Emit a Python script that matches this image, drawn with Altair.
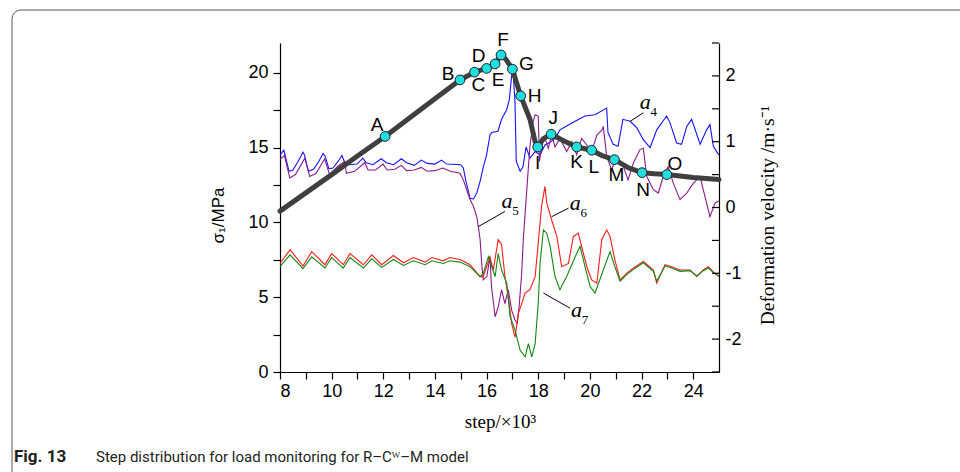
import altair as alt
import pandas as pd

# ---------------- data ----------------
# sigma_1 (MPa) versus step (x10^3)
sigma_step = [8.0, 9.0, 10.0, 11.0, 12.07, 13.0, 14.0, 14.97, 15.53, 16.0, 16.33, 16.56, 16.75,
              17.0, 17.32, 17.68, 17.88, 17.98, 18.2, 18.5, 19.0, 19.49, 20.07, 20.5, 20.95,
              21.5, 22.02, 22.5, 22.98, 24.0, 25.0]
sigma_val = [10.76, 11.98, 13.2, 14.44, 15.75, 16.96, 18.27, 19.53, 20.05, 20.3, 20.6, 21.2, 20.9,
             20.25, 18.46, 16.9, 15.4, 15.05, 15.6, 15.9, 15.45, 15.05, 14.83, 14.45, 14.2,
             13.65, 13.33, 13.25, 13.2, 13.0, 12.87]

# monitoring points A..O on the sigma curve
pt_label = list("ABCDEFGHIJKLMNO")
pt_step = [12.07, 14.97, 15.53, 16.0, 16.33, 16.56, 17.0, 17.32, 17.98, 18.5, 19.49, 20.07, 20.95, 22.02, 22.98]
pt_sigma = [15.75, 19.53, 20.05, 20.3, 20.6, 21.2, 20.25, 18.46, 15.05, 15.9, 15.05, 14.83, 14.2, 13.33, 13.2]

# deformation velocity (m/s) of monitoring lines a4..a7
a4_step = [8.00, 8.15, 8.35, 8.50, 8.70, 8.89, 8.95, 9.10, 9.30, 9.50, 9.67, 9.75, 9.89, 10.05, 10.25,
           10.40, 10.51, 10.70, 10.98, 11.21, 11.34, 11.60, 11.92, 12.12, 12.40, 12.70, 12.90, 13.20,
           13.47, 13.70, 14.00, 14.26, 14.45, 15.00, 15.10, 15.20, 15.36, 15.49, 15.62, 15.75, 15.87,
           16.00, 16.13, 16.20, 16.44, 16.58, 16.78, 16.88, 16.97, 17.02, 17.10, 17.15, 17.30, 17.41,
           17.53, 17.68, 17.88, 18.07, 18.26, 18.46, 18.65, 18.84, 19.10, 19.43, 19.81, 20.20, 20.65,
           20.70, 20.90, 21.09, 21.28, 21.56, 21.82, 22.07, 22.33, 22.59, 22.97, 23.10, 23.36, 23.55,
           23.75, 23.94, 24.14, 24.27, 24.52, 24.65, 24.78, 24.91, 25.00]
a4_vel = [0.80, 0.87, 0.55, 0.57, 0.70, 0.84, 0.80, 0.55, 0.58, 0.70, 0.82, 0.78, 0.59, 0.60, 0.70,
          0.79, 0.68, 0.65, 0.66, 0.75, 0.68, 0.65, 0.74, 0.68, 0.65, 0.74, 0.68, 0.64,
          0.72, 0.67, 0.66, 0.72, 0.66, 0.65, 0.60, 0.40, 0.14, 0.13, 0.22, 0.40, 0.61,
          0.80, 1.10, 1.14, 1.16, 1.34, 1.49, 1.64, 2.00, 2.10, 1.60, 0.70, 0.55, 0.62,
          0.92, 0.75, 0.85, 0.80, 0.95, 0.99, 1.05, 1.18, 1.24, 1.31, 1.39, 1.41, 1.51,
          1.14, 0.96, 0.93, 1.34, 1.31, 1.21, 1.03, 0.91, 1.18, 1.39, 1.29, 0.98, 0.96,
          1.23, 1.34, 1.11, 0.96, 1.18, 1.26, 0.93, 0.85, 0.80]

a5_step = [8.00, 8.17, 8.38, 8.60, 8.96, 9.15, 9.40, 9.73, 9.92, 10.25, 10.51, 10.57, 10.89, 11.28,
           11.41, 11.70, 11.99, 12.15, 12.45, 12.70, 12.90, 13.20, 13.47, 13.70, 14.00, 14.30, 14.60,
           14.97, 15.10, 15.23, 15.36, 15.49, 15.62, 15.68, 15.75, 15.81, 15.87, 16.01, 16.13, 16.19,
           16.33, 16.45, 16.58, 16.71, 16.84, 16.97, 17.10, 17.19, 17.27, 17.36, 17.42, 17.53, 17.62,
           17.68, 17.80, 17.88, 18.00, 18.05, 18.13, 18.26, 18.39, 18.52, 18.65, 18.84, 19.10, 19.30,
           19.49, 19.68, 19.88, 20.07, 20.27, 20.47, 20.52, 20.65, 20.84, 21.04, 21.30, 21.48, 21.69,
           21.94, 22.07, 22.20, 22.46, 22.65, 22.84, 23.03, 23.23, 23.49, 23.75, 24.01, 24.27, 24.39,
           24.65, 24.85, 25.00]
a5_vel = [0.73, 0.79, 0.45, 0.50, 0.75, 0.47, 0.52, 0.74, 0.50, 0.63, 0.70, 0.52, 0.55, 0.68,
          0.57, 0.57, 0.66, 0.57, 0.58, 0.64, 0.56, 0.57, 0.61, 0.55, 0.56, 0.60, 0.55,
          0.52, 0.42, 0.27, 0.12, 0.02, -0.14, -0.29, -0.49, -0.85, -1.10, -1.05, -0.75, -1.20,
          -1.66, -1.51, -1.25, -1.46, -1.25, -1.56, -1.71, -1.76, -1.46, -1.00, -0.49, 0.12, 0.62,
          0.93, 1.30, 1.41, 1.39, 0.70, 0.95, 1.05, 0.90, 1.10, 0.92, 1.05, 0.85, 1.00,
          0.80, 1.05, 0.95, 0.85, 1.10, 1.18, 1.23, 0.78, 0.57, 0.78, 0.62, 0.42, 0.68,
          0.88, 0.90, 0.47, 0.27, 0.22, 0.47, 0.62, 0.37, 0.12, 0.22, 0.37, 0.47, 0.27,
          -0.14, 0.07, 0.10]

a6_step = [8.00, 8.39, 8.89, 9.23, 9.74, 10.00, 10.45, 10.71, 11.23, 11.55, 11.94, 12.39, 12.78, 13.16,
           13.62, 13.88, 14.32, 14.58, 14.97, 15.36, 15.75, 15.87, 16.13, 16.26, 16.45, 16.58, 16.71,
           16.84, 16.97, 17.10, 17.23, 17.36, 17.49, 17.68, 17.88, 18.00, 18.13, 18.26, 18.33, 18.52,
           18.72, 18.91, 19.17, 19.36, 19.55, 19.68, 19.88, 20.07, 20.27, 20.46, 20.65, 20.78, 20.97,
           21.17, 21.42, 21.69, 22.07, 22.46, 22.59, 22.91, 23.17, 23.49, 23.88, 24.14, 24.39, 24.59,
           24.78, 25.00]
a6_vel = [-0.85, -0.64, -0.89, -0.67, -0.87, -0.70, -0.87, -0.70, -0.87, -0.72, -0.87, -0.73, -0.84, -0.76,
          -0.83, -0.76, -0.81, -0.76, -0.79, -0.87, -1.05, -1.05, -0.75, -0.95, -0.49, -0.56, -1.05,
          -1.36, -1.76, -1.97, -1.61, -1.46, -1.30, -1.25, -1.05, -0.54, 0.02, 0.32, 0.07, -0.19,
          -0.44, -0.90, -0.85, -0.44, -0.39, -0.59, -0.90, -1.10, -1.15, -0.49, -0.34, -0.44, -0.80,
          -1.10, -1.00, -0.92, -0.82, -0.95, -1.15, -0.87, -0.90, -0.95, -0.95, -1.05, -0.95, -0.90,
          -0.98, -1.05]

a7_step = [8.00, 8.39, 8.89, 9.23, 9.74, 10.00, 10.45, 10.71, 11.23, 11.55, 11.94, 12.39, 12.78, 13.16,
           13.62, 13.88, 14.32, 14.58, 14.97, 15.36, 15.75, 15.87, 16.07, 16.33, 16.45, 16.58, 16.78,
           16.91, 17.10, 17.30, 17.49, 17.62, 17.75, 17.88, 18.00, 18.07, 18.20, 18.33, 18.46, 18.65,
           18.84, 19.10, 19.43, 19.62, 19.81, 20.01, 20.20, 20.52, 20.78, 20.97, 21.17, 21.42, 21.69,
           22.07, 22.46, 22.59, 22.91, 23.17, 23.49, 23.88, 24.14, 24.39, 24.59, 24.78, 25.00]
a7_vel = [-0.90, -0.72, -0.93, -0.75, -0.92, -0.76, -0.92, -0.76, -0.92, -0.78, -0.91, -0.79, -0.88, -0.81,
          -0.87, -0.81, -0.85, -0.81, -0.83, -0.90, -1.05, -1.00, -0.75, -1.05, -0.70, -0.95, -1.15,
          -1.66, -1.86, -2.17, -2.27, -2.07, -2.27, -2.07, -1.46, -0.85, -0.34, -0.39, -0.59, -1.05,
          -1.25, -1.05, -0.75, -0.59, -0.90, -1.20, -1.30, -0.95, -0.67, -0.90, -1.12, -1.02, -0.94,
          -0.84, -0.97, -1.12, -0.89, -0.92, -0.97, -0.96, -1.04, -0.96, -0.92, -0.99, -1.04]

# line labels a4..a7 with their leader lines (velocity units)
ann_name = ["4", "5", "6", "7"]
ann_step = [22.14, 16.79, 19.43, 19.48]
ann_vel = [1.49, 0.00, -0.04, -1.67]
lead_step = [21.56, 15.68, 18.52, 18.20]
lead_vel = [1.31, -0.29, -0.14, -1.30]
lead_step2 = [22.07, 16.71, 19.17, 19.23]
lead_vel2 = [1.44, -0.06, -0.01, -1.53]

x_ticks = list(range(8, 25))
left_ticks = [0, 2.5, 5, 7.5, 10, 12.5, 15, 17.5, 20]
right_ticks = [-2.5, -2, -1.5, -1, -0.5, 0, 0.5, 1, 1.5, 2, 2.5]

caption_bold = "Fig. 13"
caption_text = "Step distribution for load monitoring for R\u2013C\u1d42\u2013M model"

# ---------------- styling ----------------
W, H = 439, 329
SANS = "Liberation Sans"
SERIF = "Liberation Serif"
CAP = "Roboto"

x_scale = alt.Scale(domain=[8, 25], nice=False, zero=False)
yl_scale = alt.Scale(domain=[0, 22], nice=False, zero=False)
yr_scale = alt.Scale(domain=[-2.5, 2.5], nice=False, zero=False)

x_axis = alt.Axis(values=x_ticks, labelExpr="datum.value % 2 === 0 ? '' + datum.value : ''",
                  title="step/\u00d710\u00b3", titleFont=SERIF, titleFontSize=19, titleFontWeight="normal",
                  titleX=220, titleY=49, titleBaseline="middle", titleAlign="center",
                  tickSize=7, labelPadding=3, orient="bottom")
yl_axis = alt.Axis(values=left_ticks, labelExpr="datum.value % 5 === 0 ? '' + datum.value : ''",
                   title="\u03c3\u2081/MPa", titleFont=SANS, titleFontSize=17, titleFontWeight="normal",
                   titleX=-62, titleY=172, titleAngle=270, titleBaseline="middle", titleAlign="center",
                   tickSize=7, labelPadding=5, orient="left")
yr_axis = alt.Axis(values=right_ticks, labelExpr="datum.value % 1 === 0 ? '' + datum.value : ''",
                   title="Deformation velocity /m\u00b7s\u207b\u00b9", titleFont=SERIF, titleFontSize=19.5,
                   titleFontWeight="normal", titleX=48, titleY=172, titleAngle=270,
                   titleBaseline="middle", titleAlign="center",
                   ticks=False, tickSize=0, labelPadding=6, orient="right")


def xenc(field):
    return alt.X(field, type="quantitative", scale=x_scale, axis=x_axis)


def yr(field):
    return alt.Y(field, type="quantitative", scale=yr_scale, axis=yr_axis)


def yl(field):
    return alt.Y(field, type="quantitative", scale=yl_scale, axis=yl_axis)


def vel_line(xs, vs, color):
    df = pd.DataFrame({"step": xs, "vel": vs})
    return alt.Chart(df).mark_line(color=color, strokeWidth=1.1, clip=True).encode(
        x=xenc("step"), y=yr("vel"), order="step:Q")


lines = [vel_line(a4_step, a4_vel, "#1414ff"),
         vel_line(a5_step, a5_vel, "#8a1a8a"),
         vel_line(a6_step, a6_vel, "#ff1a1a"),
         vel_line(a7_step, a7_vel, "#118811")]

lead_df = pd.DataFrame({"s1": lead_step, "v1": lead_vel, "s2": lead_step2, "v2": lead_vel2})
leaders = alt.Chart(lead_df).mark_rule(color="black", strokeWidth=1).encode(
    x=xenc("s1"), y=yr("v1"), x2="s2", y2="v2")

ann_df = pd.DataFrame({"name": ann_name, "step": ann_step, "vel": ann_vel})
ann_a = alt.Chart(ann_df).mark_text(font=SERIF, fontStyle="italic", fontSize=22, align="center",
                                    baseline="alphabetic", color="black").encode(
    x=xenc("step"), y=yr("vel"), text=alt.value("a"))
ann_sub = alt.Chart(ann_df).mark_text(font=SERIF, fontSize=13, align="center", baseline="alphabetic",
                                      dx=8.5, dy=7, color="black").encode(
    x=xenc("step"), y=yr("vel"), text="name:N")

rt_df = pd.DataFrame({"v": right_ticks, "s": [25] * len(right_ticks)})
rticks = alt.Chart(rt_df).mark_rule(color="black", strokeWidth=1.2, x2Offset=-7).encode(
    x=xenc("s"), x2="s", y=yr("v"))

right_layer = alt.layer(*lines, leaders, ann_a, ann_sub, rticks)

sig_df = pd.DataFrame({"step": sigma_step, "sigma": sigma_val})
sig_line = alt.Chart(sig_df).mark_line(color="#3f3f3f", strokeWidth=5, strokeCap="round",
                                       strokeJoin="round").encode(
    x=xenc("step"), y=yl("sigma"), order="step:Q")

pt_df = pd.DataFrame({"label": pt_label, "step": pt_step, "sigma": pt_sigma})
pts = alt.Chart(pt_df).mark_point(shape="circle", filled=True, size=95, fill="#22dede",
                                  stroke="#202020", strokeWidth=1, opacity=1).encode(
    x=xenc("step"), y=yl("sigma"))

label_offsets = {"A": (-8, -11), "B": (-12, -6), "C": (4, 13), "D": (-8, -12), "E": (3, 16),
                 "F": (2, -15), "G": (14, -5), "H": (14, 0), "I": (0, 16), "J": (2, -16),
                 "K": (0, 15), "L": (2, 17), "M": (2, 15), "N": (1, 17), "O": (8, -11)}
letters = []
for lab in pt_label:
    dx, dy = label_offsets[lab]
    letters.append(alt.Chart(pt_df).mark_text(font=SANS, fontSize=19, align="center", baseline="middle",
                                              dx=dx, dy=dy, color="black").encode(
        x=xenc("step"), y=yl("sigma"), text="label:N").transform_filter(
        alt.datum.label == lab))

one = pd.DataFrame({"t": [caption_bold], "u": [caption_text]})
frame = alt.Chart(one).mark_rect(fill=None, stroke="#555555", strokeWidth=1, cornerRadius=9).encode(
    x=alt.value(-268), x2=alt.value(720), y=alt.value(-33), y2=alt.value(470))
cap1 = alt.Chart(one).mark_text(font=CAP, fontWeight="bold", fontSize=17,
                                align="left", baseline="alphabetic", color="#231f20").encode(
    x=alt.value(-266), y=alt.value(419), text="t:N")
cap2 = alt.Chart(one).mark_text(font=CAP, fontSize=15,
                                align="left", baseline="alphabetic", color="#231f20").encode(
    x=alt.value(-184), y=alt.value(419), text="u:N")

left_layer = alt.layer(sig_line, pts, *letters, frame, cap1, cap2)

chart = alt.layer(right_layer, left_layer).resolve_scale(y="independent").properties(
    width=W, height=H, autosize=alt.AutoSizeParams(type="none"),
    padding={"left": 280, "top": 43, "right": 241, "bottom": 100},
    background="white",
).configure_view(stroke=None).configure_axis(
    grid=False, domainColor="black", domainWidth=1.2, tickColor="black", tickWidth=1.2,
    labelColor="black", labelFont=SANS, labelFontSize=18, titleColor="black",
)

chart.save("out.html", embed_options={"renderer": "svg", "actions": False})
